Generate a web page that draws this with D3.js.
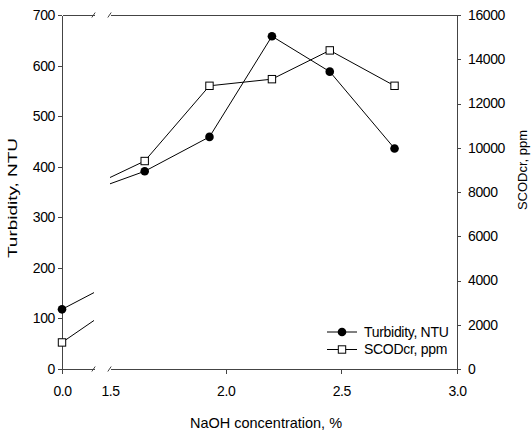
<!DOCTYPE html>
<html>
<head>
<meta charset="utf-8">
<script src="https://cdn.jsdelivr.net/npm/d3@7"></script>
<style>
  body { margin: 0; background: #fff; }
  svg text { font-family: "Liberation Sans", Arial, sans-serif; fill: #000; }
  .axis path, .axis line { stroke: #444; stroke-width: 1; shape-rendering: crispEdges; }
  .series { fill: none; stroke: #000; stroke-width: 1; }
</style>
</head>
<body>
<div id="chart"></div>
<script>
// NaOH concentration (%) and the two measured series
var conc = [0, 1.65, 1.93, 2.20, 2.45, 2.73];
var turbidity = [118, 391, 459, 658, 588, 436];
var scod = [1200, 9400, 12800, 13100, 14400, 12800];

var turbTicks = [0, 100, 200, 300, 400, 500, 600, 700];
var scodTicks = [0, 2000, 4000, 6000, 8000, 10000, 12000, 14000, 16000];
var xTicksLeft = [0.0];
var xTicksRight = [1.5, 2.0, 2.5, 3.0];

var width = 532, height = 433;
var plot = {left: 62, right: 457, top: 15, bottom: 369};

var svg = d3.select("#chart").append("svg")
    .attr("width", width)
    .attr("height", height);

// broken x axis: short piece for 0.0, long piece for 1.5 - 3.0
var xLeft = d3.scaleLinear().domain([0, 0.2]).range([plot.left, 94]);
var xRight = d3.scaleLinear().domain([1.5, 3.0]).range([110, plot.right]);

var yL = d3.scaleLinear().domain([0, 700]).range([plot.bottom, plot.top]);
var yR = d3.scaleLinear().domain([0, 16000]).range([plot.bottom, plot.top]);

var defs = svg.append("defs");
defs.append("clipPath").attr("id", "clipL")
  .append("rect")
    .attr("x", plot.left).attr("y", 0)
    .attr("width", 94 - plot.left).attr("height", height);
defs.append("clipPath").attr("id", "clipR")
  .append("rect")
    .attr("x", 110).attr("y", 0)
    .attr("width", plot.right - 110 + 10).attr("height", height);

// left y axis
svg.append("g")
    .attr("class", "axis")
    .attr("transform", "translate(" + plot.left + ",0)")
    .call(d3.axisLeft(yL).tickValues(turbTicks).tickFormat(d3.format("d"))
      .tickSize(4).tickSizeOuter(0).tickPadding(3));

// right y axis
svg.append("g")
    .attr("class", "axis")
    .attr("transform", "translate(" + plot.right + ",0)")
    .call(d3.axisRight(yR).tickValues(scodTicks).tickFormat(d3.format("d"))
      .tickSize(4).tickSizeOuter(0).tickPadding(7));

// bottom axis pieces
var gB1 = svg.append("g")
    .attr("class", "axis")
    .attr("transform", "translate(0," + plot.bottom + ")")
    .call(d3.axisBottom(xLeft).tickValues(xTicksLeft).tickFormat(d3.format(".1f")).tickSize(5).tickSizeOuter(0));
var gB2 = svg.append("g")
    .attr("class", "axis")
    .attr("transform", "translate(0," + plot.bottom + ")")
    .call(d3.axisBottom(xRight).tickValues(xTicksRight).tickFormat(d3.format(".1f")).tickSize(5).tickSizeOuter(0));
gB2.selectAll(".tick line").filter(function(d) { return d === 1.5; }).remove();

// top axis pieces, no ticks
svg.append("g")
    .attr("class", "axis")
    .attr("transform", "translate(0," + plot.top + ")")
    .call(d3.axisTop(xLeft).tickValues([]).tickSizeOuter(0));
svg.append("g")
    .attr("class", "axis")
    .attr("transform", "translate(0," + plot.top + ")")
    .call(d3.axisTop(xRight).tickValues([]).tickSizeOuter(0));

svg.selectAll(".axis text")
    .style("font-size", "14px")
    .style("letter-spacing", "-0.4px");
gB1.selectAll(".tick text").attr("y", 17).attr("dy", "0.71em");
gB2.selectAll(".tick text").attr("y", 17).attr("dy", "0.71em");

// break marks at the ends of each axis piece
[plot.top, plot.bottom].forEach(function(yy) {
  [xLeft.range()[1] - 0.5, xRight.range()[0] - 0.5].forEach(function(xx) {
    svg.append("line")
        .attr("x1", xx - 1.7).attr("y1", yy + 2.5)
        .attr("x2", xx + 1.7).attr("y2", yy - 2.5)
        .attr("stroke", "#444")
        .attr("stroke-width", 1);
  });
});

var pts = conc.map(function(c, i) { return {x: c, t: turbidity[i], s: scod[i]}; });

function drawLines(xs, clip) {
  var g = svg.append("g").attr("clip-path", "url(#" + clip + ")");
  g.append("path")
      .datum(pts)
      .attr("class", "series")
      .attr("d", d3.line().x(function(d) { return xs(d.x); }).y(function(d) { return yL(d.t); }));
  g.append("path")
      .datum(pts)
      .attr("class", "series")
      .attr("d", d3.line().x(function(d) { return xs(d.x); }).y(function(d) { return yR(d.s); }));
}
drawLines(xLeft, "clipL");
drawLines(xRight, "clipR");

function xpos(c) { return c < 1 ? xLeft(c) : xRight(c); }

// markers
svg.selectAll(".sq")
    .data(pts)
  .enter().append("rect")
    .attr("class", "sq")
    .attr("x", function(d) { return xpos(d.x) - 3.7; })
    .attr("y", function(d) { return yR(d.s) - 3.7; })
    .attr("width", 7.4).attr("height", 7.4)
    .attr("fill", "#fff").attr("stroke", "#000").attr("stroke-width", 1);

svg.selectAll(".dot")
    .data(pts)
  .enter().append("circle")
    .attr("class", "dot")
    .attr("cx", function(d) { return xpos(d.x); })
    .attr("cy", function(d) { return yL(d.t); })
    .attr("r", 4.3)
    .attr("fill", "#000");

// axis titles
svg.append("text")
    .attr("transform", "translate(17,198) rotate(-90)")
    .attr("text-anchor", "middle")
    .attr("textLength", 120)
    .attr("lengthAdjust", "spacingAndGlyphs")
    .style("font-size", "13px")
    .text("Turbidity, NTU");

svg.append("text")
    .attr("transform", "translate(527,170) rotate(-90)")
    .attr("text-anchor", "middle")
    .style("font-size", "13px")
    .text("SCODcr, ppm");

svg.append("text")
    .attr("x", 190).attr("y", 428)
    .attr("textLength", 152)
    .attr("lengthAdjust", "spacingAndGlyphs")
    .style("font-size", "15px")
    .text("NaOH concentration, %");

// legend
var legend = svg.append("g").attr("transform", "translate(327,332)");
legend.append("line").attr("x1", 0).attr("x2", 30).attr("y1", 0).attr("y2", 0).attr("stroke", "#000");
legend.append("circle").attr("cx", 15).attr("cy", 0).attr("r", 4.3).attr("fill", "#000");
legend.append("text").attr("x", 37).attr("y", 0).attr("dy", "0.35em")
    .style("font-size", "14px").style("letter-spacing", "-0.3px").text("Turbidity, NTU");

legend.append("line").attr("x1", 0).attr("x2", 30).attr("y1", 17.5).attr("y2", 17.5).attr("stroke", "#000");
legend.append("rect").attr("x", 11.3).attr("y", 17.5 - 3.7).attr("width", 7.4).attr("height", 7.4)
    .attr("fill", "#fff").attr("stroke", "#000");
legend.append("text").attr("x", 37).attr("y", 17.5).attr("dy", "0.35em")
    .style("font-size", "14px").style("letter-spacing", "-0.3px").text("SCODcr, ppm");
</script>
</body>
</html>
